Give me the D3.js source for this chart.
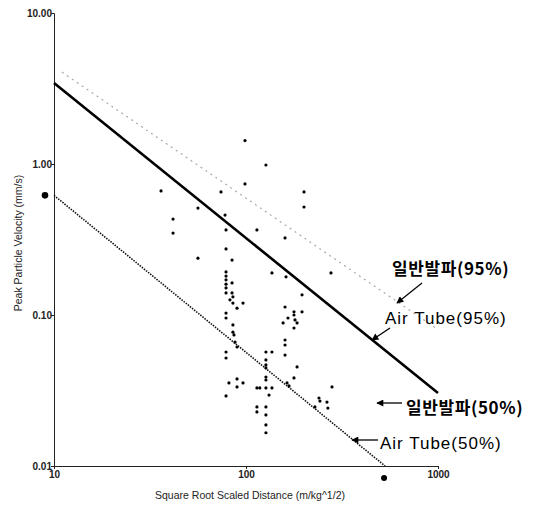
<!DOCTYPE html>
<html>
<head>
<meta charset="utf-8">
<script src="https://cdn.jsdelivr.net/npm/d3@7"></script>
<style>
  body { margin: 0; background: #fff; }
  svg { display: block; }
</style>
</head>
<body>
<svg id="chart"></svg>
<script>
// ticks
var xTicks = [10, 100, 1000];
var yTicks = [0.01, 0.1, 1, 10];

// measured blasts: scaled distance (m/kg^1/2), PPV (mm/s)
var distance = [
  98.8, 127, 98.8, 74.1, 36.1, 200.5, 200.5, 56.2, 41.7, 41.7,
  77.8, 78.7, 114, 159.7, 78.7, 56.2, 84.6, 136.5, 161.6, 277,
  78.7, 78.7, 78.7, 78.7, 78.7, 78.7, 84.6, 195.8, 84.6, 85.5,
  82.5, 96.5, 85.5, 89.8, 159.7, 78.7, 78.7, 177.8, 177.8, 195.8,
  165.5, 180, 184.5, 177.8, 156, 85.5, 85.5, 86.6, 87.7, 89.8,
  78.7, 78.7, 159.7, 159.7, 159.7, 127, 136.5, 127, 127, 127,
  184.5, 177.8, 127, 127, 163.6, 167.5, 81.5, 89.8, 96.5, 89.8,
  78.7, 114, 118, 127, 136.5, 131.8, 280.5, 114, 114, 127,
  127, 127, 127, 240, 242.7, 264, 267, 228.5
];
var ppv = [
  1.43, 0.985, 0.738, 0.653, 0.663, 0.653, 0.519, 0.511, 0.432, 0.349,
  0.459, 0.366, 0.366, 0.324, 0.274, 0.238, 0.231, 0.190, 0.179, 0.190,
  0.193, 0.181, 0.171, 0.160, 0.151, 0.140, 0.163, 0.136, 0.140, 0.132,
  0.126, 0.120, 0.120, 0.111, 0.113, 0.103, 0.0955, 0.105, 0.100, 0.105,
  0.0955, 0.0927, 0.0886, 0.082, 0.0886, 0.0859, 0.077, 0.0738, 0.0662, 0.0614,
  0.0569, 0.0519, 0.0683, 0.0633, 0.0543, 0.0569, 0.0569, 0.0504, 0.0467, 0.0446,
  0.0453, 0.0383, 0.0388, 0.0371, 0.0355, 0.0339, 0.0355, 0.0377, 0.0355, 0.0334,
  0.0291, 0.0329, 0.0329, 0.0329, 0.0329, 0.0295, 0.0334, 0.0246, 0.0228, 0.0246,
  0.0218, 0.0187, 0.0166, 0.0282, 0.0269, 0.0265, 0.0242, 0.0246
];

// regression lines [distance, ppv]
var airTube95 = [[10, 3.44], [1000, 0.0304]];
var blast95 = [[11, 4.06], [1000, 0.08]];
var airTube50 = [[10, 0.62], [530, 0.01]];

// intercept markers
var yIntercept = 0.62;
var xIntercept = 530;

var W = 536, H = 506;
var svg = d3.select("#chart").attr("width", W).attr("height", H);

var x = d3.scaleLog().domain([10, 1000]).range([54, 438]);
var y = d3.scaleLog().domain([0.01, 10]).range([466, 13]);

var font = "'Liberation Sans', Arial, sans-serif";

// axes
var xAxis = svg.append("g")
    .attr("transform", "translate(0," + y(0.01) + ")")
    .call(d3.axisBottom(x).tickValues(xTicks).tickSize(3).tickFormat(d3.format("d")));
var yAxis = svg.append("g")
    .attr("transform", "translate(" + x(10) + ",0)")
    .call(d3.axisLeft(y).tickValues(yTicks).tickSize(3).tickFormat(d3.format(".2f")));

[xAxis, yAxis].forEach(function(g) {
    g.selectAll("path, line").attr("stroke", "#222").attr("stroke-width", 1);
    g.selectAll("text").attr("font-family", font).attr("font-size", 10)
        .attr("font-weight", "bold").attr("fill", "#222");
});
yAxis.selectAll("text").attr("x", -2);
xAxis.selectAll("text").attr("dy", "0.55em");

// axis titles
svg.append("text")
    .attr("x", 250).attr("y", 499)
    .attr("text-anchor", "middle")
    .attr("font-family", font).attr("font-size", 10.5).attr("fill", "#222")
    .text("Square Root Scaled Distance (m/kg^1/2)");
svg.append("text")
    .attr("transform", "translate(22,243) rotate(-90)")
    .attr("text-anchor", "middle")
    .attr("font-family", font).attr("font-size", 10.5).attr("fill", "#222")
    .text("Peak Particle Velocity (mm/s)");

var line = d3.line()
    .x(function(d) { return x(d[0]); })
    .y(function(d) { return y(d[1]); });

svg.append("path").datum(blast95)
    .attr("d", line).attr("fill", "none")
    .attr("stroke", "#a8a8a8").attr("stroke-width", 1.2)
    .attr("stroke-dasharray", "2,4");
svg.append("path").datum(airTube95)
    .attr("d", line).attr("fill", "none")
    .attr("stroke", "#000").attr("stroke-width", 2.6);
svg.append("path").datum(airTube50)
    .attr("d", line).attr("fill", "none")
    .attr("stroke", "#111").attr("stroke-width", 1.6)
    .attr("stroke-dasharray", "1.5,1.2");

// scatter
svg.selectAll(".pt")
    .data(d3.zip(distance, ppv))
    .enter().append("circle")
    .attr("class", "pt")
    .attr("cx", function(d) { return x(d[0]); })
    .attr("cy", function(d) { return y(d[1]); })
    .attr("r", 1.6)
    .attr("fill", "#000");

// intercept dots outside the axes
svg.append("circle")
    .attr("cx", x(10) - 9).attr("cy", y(yIntercept)).attr("r", 3.3).attr("fill", "#000");
svg.append("circle")
    .attr("cx", x(xIntercept) - 1).attr("cy", y(0.01) + 12).attr("r", 3).attr("fill", "#000");

// annotations
svg.append("defs").append("marker")
    .attr("id", "head")
    .attr("viewBox", "0 0 10 10")
    .attr("refX", 9).attr("refY", 5)
    .attr("markerWidth", 9).attr("markerHeight", 7)
    .attr("markerUnits", "userSpaceOnUse")
    .attr("orient", "auto")
    .append("path").attr("d", "M0,0L10,5L0,10z").attr("fill", "#000");

var notes = [
    { text: "일반발파(95%)", tx: 392, ty: 275, a: [422, 283, 397, 303], kr: true },
    { text: "Air Tube(95%)", tx: 385, ty: 324, a: [390, 328, 372, 340], kr: false },
    { text: "일반발파(50%)", tx: 406, ty: 414, a: [402, 403, 377, 403], kr: true },
    { text: "Air Tube(50%)", tx: 380, ty: 449, a: [378, 440, 352, 440], kr: false }
];

notes.forEach(function(n) {
    svg.append("line")
        .attr("x1", n.a[0]).attr("y1", n.a[1]).attr("x2", n.a[2]).attr("y2", n.a[3])
        .attr("stroke", "#000").attr("stroke-width", 1.3)
        .attr("marker-end", "url(#head)");
    svg.append("text")
        .attr("x", n.tx).attr("y", n.ty)
        .attr("font-family", n.kr ? "'Noto Sans CJK KR', sans-serif" : font)
        .attr("font-size", 17)
        .attr("font-weight", n.kr ? "bold" : "normal")
        .attr("letter-spacing", n.kr ? 0.6 : 1)
        .attr("fill", "#000")
        .text(n.text);
});
</script>
</body>
</html>
